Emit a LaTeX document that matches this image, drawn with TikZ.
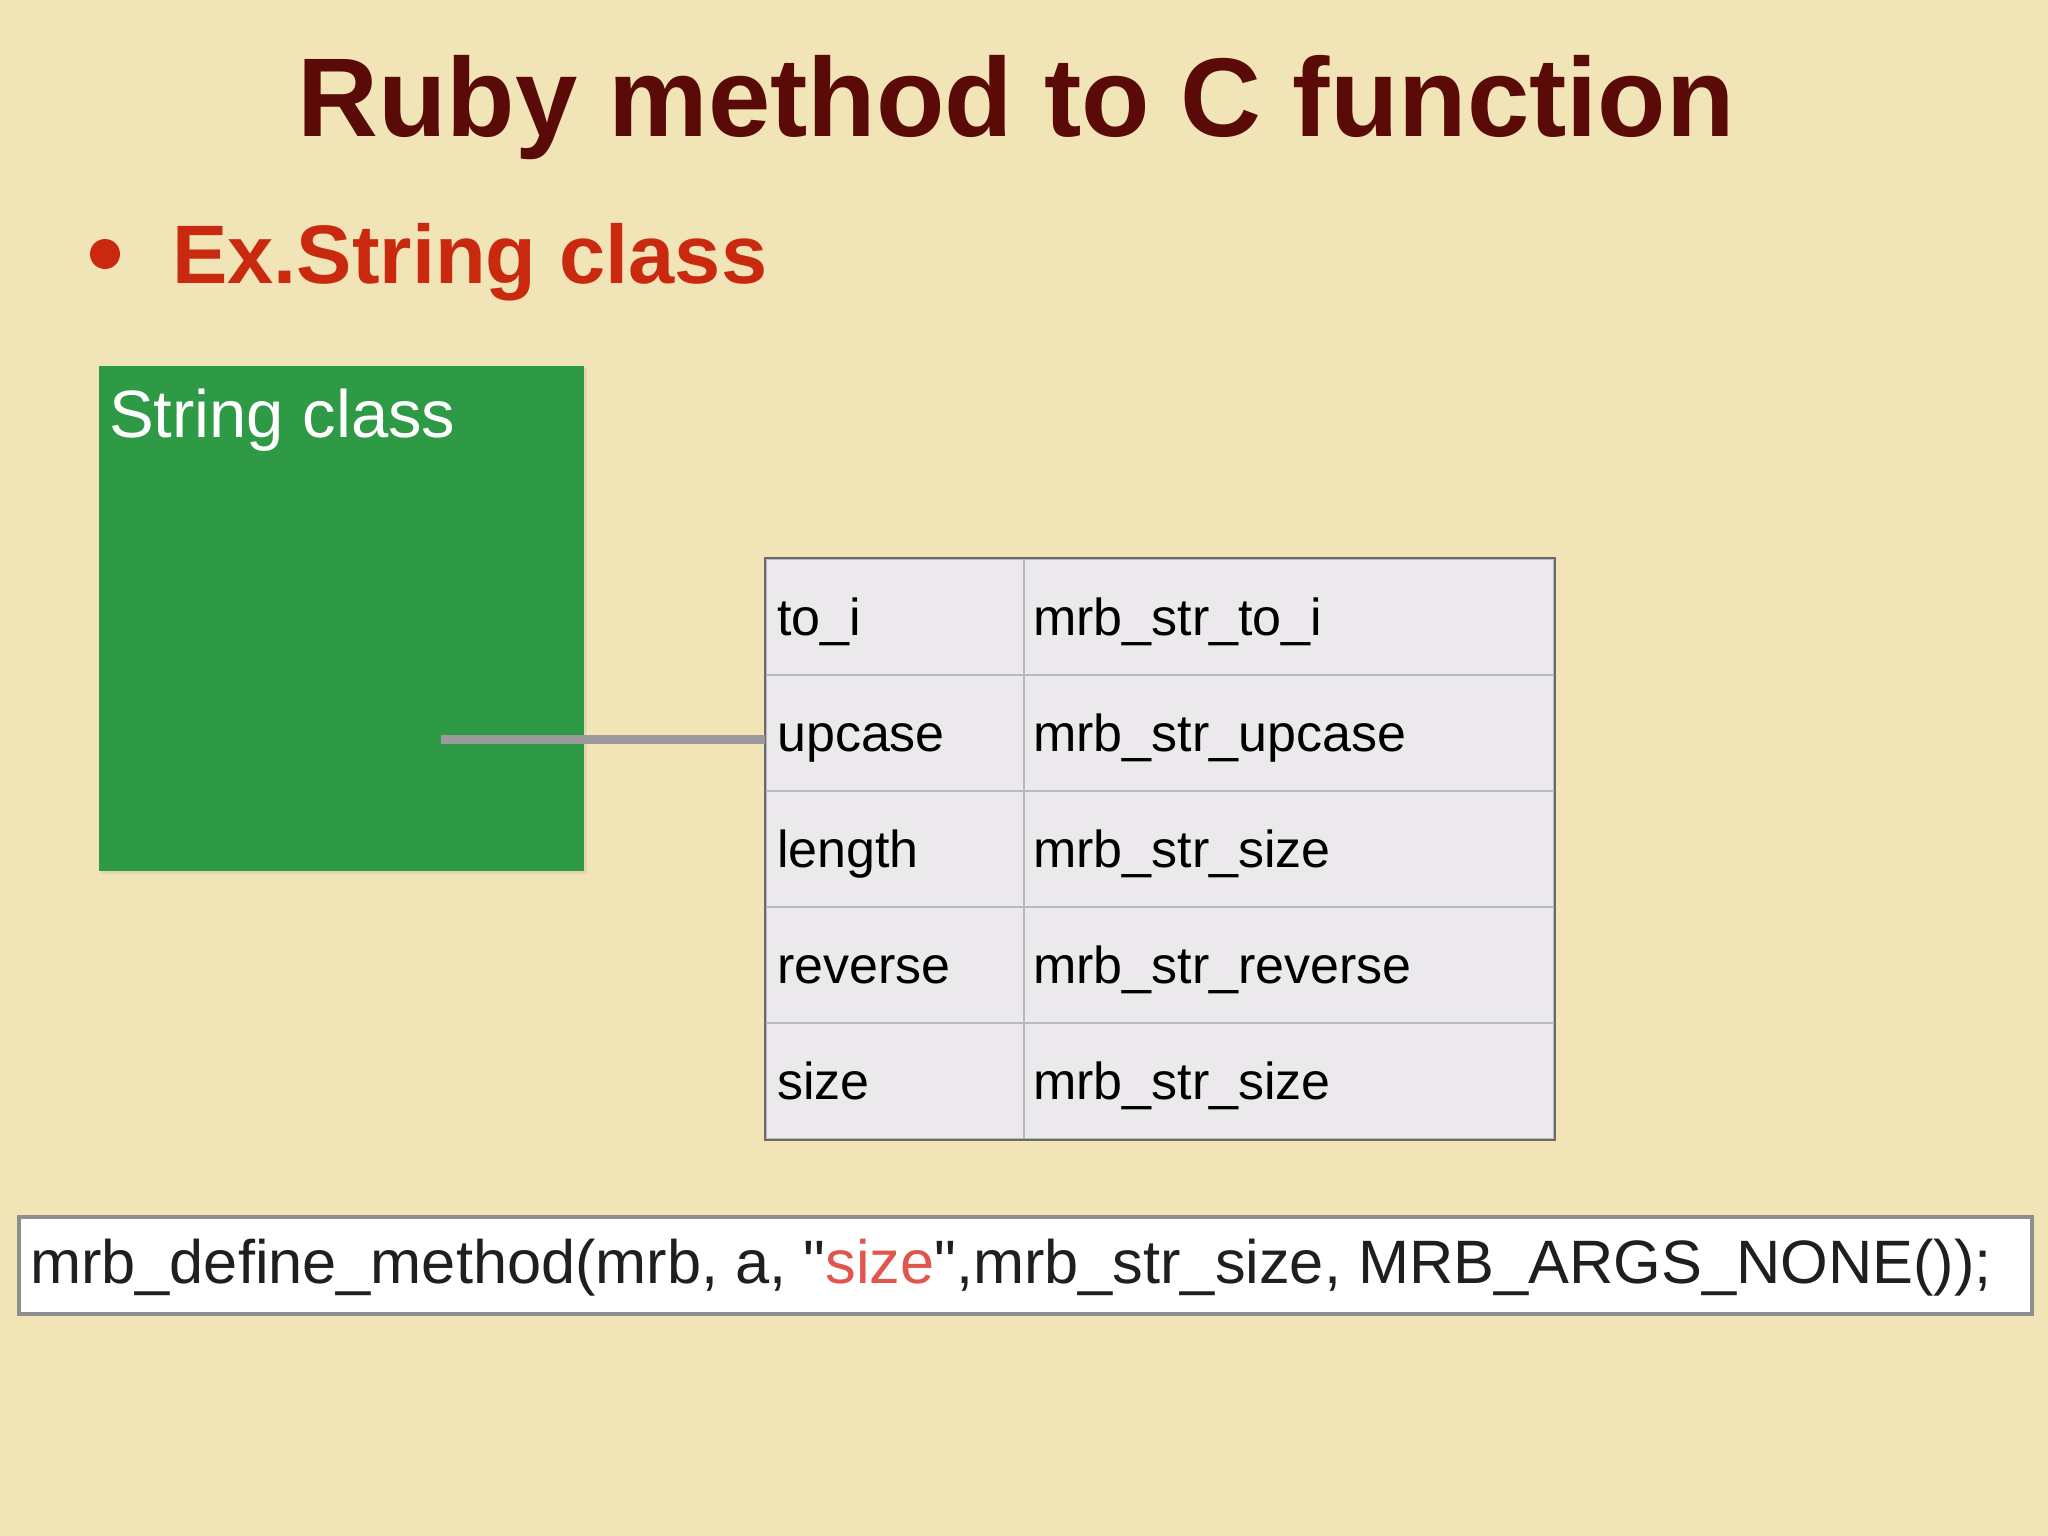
\documentclass[tikz,border=0pt]{standalone}
\usepackage{fontspec}
\setmainfont{Liberation Sans}
\newfontfamily\codefont[Ligatures=TeXOff]{Liberation Sans}
\definecolor{bg}{HTML}{F1E4B7}
\definecolor{titlec}{HTML}{5A0B07}
\definecolor{exc}{HTML}{C92A0F}
\definecolor{clsgreen}{HTML}{2F9A45}
\definecolor{tabfill}{HTML}{EBE9EC}
\definecolor{tabline}{HTML}{B9B9BB}
\definecolor{tabborder}{HTML}{6A6A6A}
\definecolor{codeborder}{HTML}{8E8E8E}
\definecolor{sizered}{HTML}{E0554E}
\definecolor{connc}{HTML}{9C9A9C}
\tikzset{
  cell/.style={rectangle, fill=tabfill, draw=tabline, line width=2pt, minimum height=116, inner sep=0pt, anchor=north west},
  tabtext/.style={anchor=base west, inner sep=0pt, font=\fontsize{52}{54}\selectfont, text=black},
  conn/.style={draw=connc, line width=9pt},
}
\begin{document}
\begin{tikzpicture}[x=1pt,y=-1pt]
\useasboundingbox (0,0) rectangle (2048,1536);
\fill[bg] (0,0) rectangle (2048,1536);
% title
\node[anchor=base, inner sep=0pt, font=\fontsize{112}{114}\selectfont\bfseries, text=titlec] (title) at (1016,137) {Ruby method to C function};
% bullet
\node[circle, fill=exc, minimum size=30, inner sep=0pt] (dot) at (105,254) {};
\node[anchor=base west, inner sep=0pt, font=\fontsize{83}{85}\selectfont\bfseries, text=exc] (ex) at (172,283) {Ex.String class};
% green class box
\fill[black, opacity=0.06] (101,368) rectangle (587,874);
\node[rectangle, fill=clsgreen, minimum width=485, minimum height=505, inner sep=0pt, anchor=north west] (cls) at (99,366) {};
\node[anchor=base west, inner sep=0pt, font=\fontsize{67}{69}\selectfont, text=white] (clsname) at (109,437) {String class};
% table
\foreach \m/\f [count=\i] in {to\_i/mrb\_str\_to\_i, upcase/mrb\_str\_upcase, length/mrb\_str\_size, reverse/mrb\_str\_reverse, size/mrb\_str\_size}{
  \pgfmathsetmacro\rowy{558+116*(\i-1)}
  \node[cell, minimum width=258] (l\i) at (765,\rowy) {};
  \node[cell, minimum width=530] (r\i) at (1023,\rowy) {};
  \node[tabtext] (lt\i) at (777,\rowy+77) {\m};
  \node[tabtext] (rt\i) at (1033,\rowy+77) {\f};
}
\draw[tabborder, line width=2.5pt] (l1.north west) rectangle (r5.south east);
% connector
\coordinate (cstart) at (441,739);
\draw[conn] (cstart) -- (cstart -| l2.west);
% code box
\node[rectangle, draw=codeborder, line width=3.5pt, fill=white, minimum width=2013, minimum height=97, inner sep=0pt, anchor=north west] (codebox) at (17,1215) {};
\node[anchor=base west, inner sep=0pt, font=\codefont\fontsize{61.3}{63}\selectfont, text=black!88] (code) at (30,1283) {mrb\_define\_method(mrb, a, "\textcolor{sizered}{size}",mrb\_str\_size, MRB\_ARGS\_NONE());};
\end{tikzpicture}
\end{document}
